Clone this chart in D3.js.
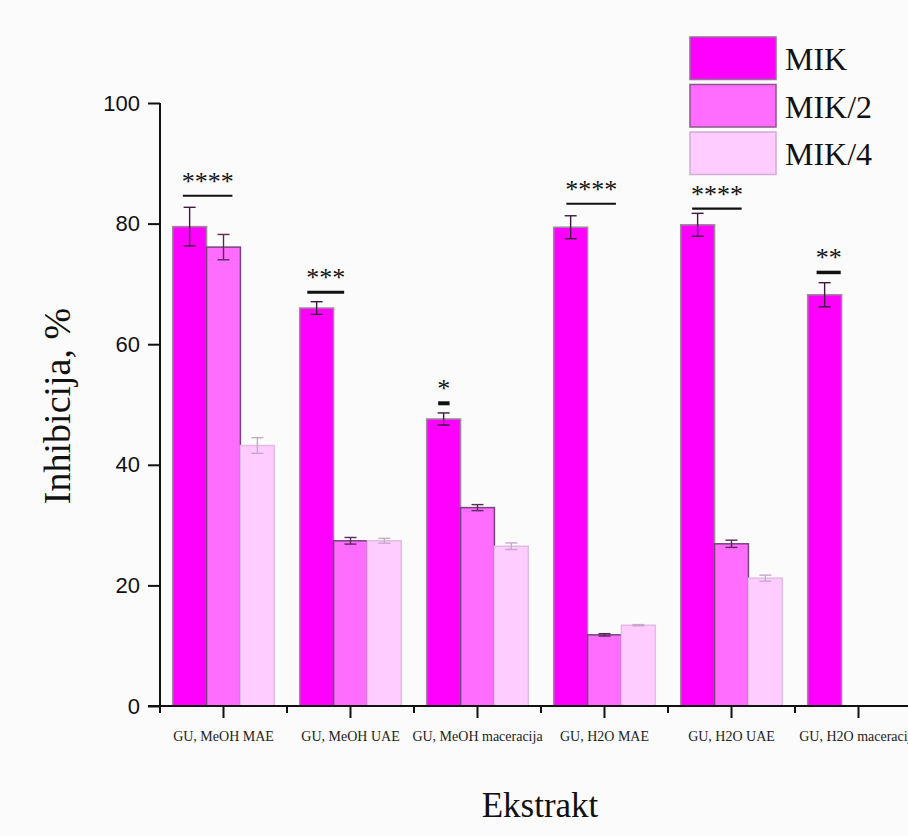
<!DOCTYPE html>
<html>
<head>
<meta charset="utf-8">
<script src="https://cdn.jsdelivr.net/npm/d3@7"></script>
<style>
  html, body { margin: 0; padding: 0; background: #fbfbfb; }
  svg { display: block; }
</style>
</head>
<body>
<svg id="chart" width="908" height="836"></svg>
<script>
// ---- data ----
const categories = ["GU, MeOH MAE", "GU, MeOH UAE", "GU, MeOH maceracija", "GU, H2O MAE", "GU, H2O UAE", "GU, H2O maceracija"];
const seriesNames = ["MIK", "MIK/2", "MIK/4"];
const mikValues  = [79.5, 66.0, 47.6, 79.4, 79.8, 68.2];
const mik2Values = [76.1, 27.4, 32.9, 11.8, 26.9, null];
const mik4Values = [43.2, 27.4, 26.5, 13.4, 21.2, null];
const mikErr  = [3.2, 1.05, 1.0, 1.9, 1.9, 2.0];
const mik2Err = [2.1, 0.55, 0.5, 0.2, 0.6, null];
const mik4Err = [1.3, 0.4, 0.55, 0.1, 0.5, null];
const sigStars = ["****", "***", "*", "****", "****", "**"];
const sigLevel = [84.6, 68.6, 50.2, 83.3, 82.5, 71.9];
const yTicks = [0, 20, 40, 60, 80, 100];
const xTitle = "Ekstrakt";
const yTitle = "Inhibicija, %";

// ---- layout / styles ----
const svg = d3.select("#chart");
const W = 908, H = 836;
svg.append("rect").attr("width", W).attr("height", H).attr("fill", "#fbfbfb");

const x0 = 160, x1 = 922, yBottom = 706, yTop = 103;
const x = d3.scaleBand().domain(categories).range([x0, x1]).paddingInner(0.2).paddingOuter(0.1);
const step = x.step();
const xs = d3.scaleBand().domain(seriesNames).range([0, x.bandwidth()]);
const y = d3.scaleLinear().domain([0, 100]).range([yBottom, yTop]);

const fills = ["#ff00ff", "#ff6dff", "#ffccff"];
const strokes = ["#9a8a9a", "#74447a", "#e2bce2"];
const errColors = ["#3a1a3a", "#5a2a5a", "#c8a8c8"];
const legendStrokes = ["#9c6a9c", "#8a5a8a", "#d4acd4"];

const values = [mikValues, mik2Values, mik4Values];
const errs = [mikErr, mik2Err, mik4Err];

const rows = [];
seriesNames.forEach((s, si) => {
  categories.forEach((c, ci) => {
    if (values[si][ci] != null) rows.push({ s, si, c, ci, v: values[si][ci], e: errs[si][ci] });
  });
});

// bars
svg.append("g").selectAll("rect").data(rows).join("rect")
  .attr("x", d => x(d.c) + xs(d.s))
  .attr("y", d => y(d.v))
  .attr("width", xs.bandwidth())
  .attr("height", d => y(0) - y(d.v))
  .attr("fill", d => fills[d.si])
  .attr("stroke", d => strokes[d.si])
  .attr("stroke-width", 1.5);

// error bars
const eg = svg.append("g");
rows.forEach(d => {
  const cx = x(d.c) + xs(d.s) + xs.bandwidth() / 2;
  const col = errColors[d.si];
  const g = eg.append("g").attr("stroke", col).attr("stroke-width", 1.4).attr("fill", "none");
  g.append("line").attr("x1", cx).attr("x2", cx).attr("y1", y(d.v + d.e)).attr("y2", y(d.v - d.e));
  g.append("line").attr("x1", cx - 6).attr("x2", cx + 6).attr("y1", y(d.v + d.e)).attr("y2", y(d.v + d.e));
  g.append("line").attr("x1", cx - 6).attr("x2", cx + 6).attr("y1", y(d.v - d.e)).attr("y2", y(d.v - d.e));
});

// significance markers (span relative to group centre, in band steps)
const sigGeom = [[-0.32, 0.07, 2], [-0.34, -0.05, 3], [-0.31, -0.22, 4], [-0.30, 0.09, 2], [-0.31, 0.08, 2.2], [-0.33, -0.14, 3.5]];
const sg = svg.append("g");
categories.forEach((c, i) => {
  const cx = x(c) + x.bandwidth() / 2;
  const [a, b, w] = sigGeom[i];
  const ly = y(sigLevel[i]);
  sg.append("line").attr("x1", cx + a * step).attr("x2", cx + b * step)
    .attr("y1", ly).attr("y2", ly).attr("stroke", "#111").attr("stroke-width", w);
  sg.append("text").attr("x", cx + (a + b) / 2 * step).attr("y", ly - 6)
    .attr("text-anchor", "middle")
    .attr("font-family", "'Liberation Serif', 'Times New Roman', serif")
    .attr("font-size", 26).attr("fill", "#111").text(sigStars[i]);
});

// y axis
const yAxis = svg.append("g").attr("transform", `translate(${x0},0)`)
  .call(d3.axisLeft(y).tickValues(yTicks).tickSize(12).tickPadding(8).tickFormat(d3.format("d")));
yAxis.select(".domain").attr("stroke", "#111").attr("stroke-width", 2).attr("d", `M-0,${yTop}V${yBottom}`);
yAxis.selectAll(".tick line").attr("stroke", "#111").attr("stroke-width", 2);
yAxis.selectAll(".tick text").attr("font-family", "'Liberation Sans', Arial, sans-serif")
  .attr("font-size", 22).attr("fill", "#111");

// x axis: major ticks at group centres, minor ticks at boundaries
const xAxis = svg.append("g").attr("transform", `translate(0,${yBottom})`)
  .call(d3.axisBottom(x).tickSize(12).tickPadding(10));
xAxis.select(".domain").attr("stroke", "#111").attr("stroke-width", 2).attr("d", `M${x0 - 12},0H${W}`);
xAxis.selectAll(".tick line").attr("stroke", "#111").attr("stroke-width", 2);
xAxis.selectAll(".tick text").attr("font-family", "'Liberation Serif', 'Times New Roman', serif")
  .attr("font-size", 14).attr("fill", "#222").attr("dy", "0.9em");
const minor = d3.range(categories.length + 1).map(i => x0 + i * step);
xAxis.selectAll(".minor").data(minor).join("line").attr("class", "minor")
  .attr("x1", d => d).attr("x2", d => d).attr("y1", 0).attr("y2", 7)
  .attr("stroke", "#111").attr("stroke-width", 2);

// titles
svg.append("text").attr("x", 540).attr("y", 817).attr("text-anchor", "middle")
  .attr("font-family", "'Liberation Serif', 'Times New Roman', serif").attr("font-size", 35)
  .attr("fill", "#111").text(xTitle);
svg.append("text").attr("transform", "translate(70,406) rotate(-90)").attr("text-anchor", "middle")
  .attr("font-family", "'Liberation Serif', 'Times New Roman', serif").attr("font-size", 38)
  .attr("fill", "#111").text(yTitle);

// legend
const lg = svg.append("g");
seriesNames.forEach((s, i) => {
  const top = 37 + i * 47.5;
  lg.append("rect").attr("x", 690).attr("y", top).attr("width", 86).attr("height", 42.5)
    .attr("fill", fills[i]).attr("stroke", legendStrokes[i]).attr("stroke-width", 1.5);
  lg.append("text").attr("x", 785).attr("y", top + 33)
    .attr("font-family", "'Liberation Serif', 'Times New Roman', serif").attr("font-size", 32)
    .attr("fill", "#111").text(s);
});
</script>
</body>
</html>
